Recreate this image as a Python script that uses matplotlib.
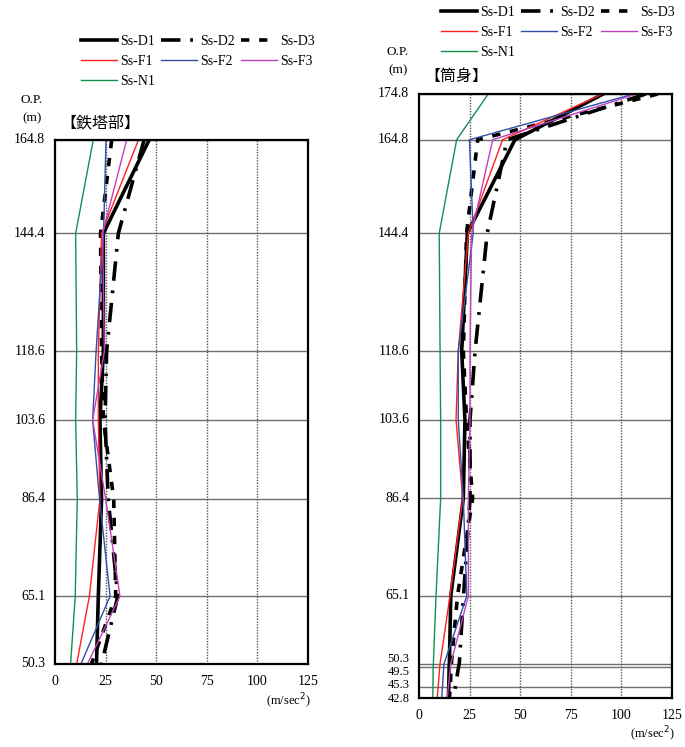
import matplotlib
matplotlib.use("Agg")
import matplotlib.pyplot as plt

plt.rcParams['lines.scale_dashes'] = False

# ---------------- data ----------------
series_names = ["Ss-D1", "Ss-D2", "Ss-D3", "Ss-F1", "Ss-F2", "Ss-F3", "Ss-N1"]

tower_levels = [164.8, 144.4, 118.6, 103.6, 86.4, 65.1, 50.3]
tower_ticks = ["164.8", "144.4", "118.6", "103.6", "86.4", "65.1", "50.3"]
tower_D1 = [46.5, 23.9, 23.9, 22.2, 23.0, 21.4, 20.5]
tower_D2 = [44.0, 31.3, 25.5, 24.7, 26.3, 31.0, 23.0]
tower_D3 = [28.0, 22.5, 23.0, 23.9, 29.0, 30.0, 18.0]
tower_F1 = [41.2, 23.0, 21.4, 21.4, 22.2, 17.0, 10.7]
tower_F2 = [25.2, 24.0, 20.3, 18.6, 22.0, 27.2, 12.8]
tower_F3 = [35.4, 23.5, 24.4, 18.6, 25.0, 32.1, 16.0]
tower_N1 = [18.9, 10.2, 10.7, 10.2, 11.0, 10.0, 7.7]

stack_levels = [174.8, 164.8, 144.4, 118.6, 103.6, 86.4, 65.1, 50.3, 49.5, 45.3, 42.8]
stack_ticks = ["174.8", "164.8", "144.4", "118.6", "103.6", "86.4", "65.1", "50.3", "49.5", "45.3", "42.8"]
stack_D1 = [91.0, 47.4, 23.9, 21.1, 22.7, 21.9, 15.7, 15.0, 14.9, 14.7, 14.5]
stack_D2 = [112.0, 43.5, 33.7, 27.7, 25.2, 25.2, 22.0, 19.9, 19.5, 18.0, 17.3]
stack_D3 = [118.0, 29.0, 23.5, 21.9, 23.5, 26.5, 19.0, 16.0, 15.8, 15.5, 15.0]
stack_F1 = [90.7, 41.3, 24.4, 19.4, 18.3, 21.6, 15.3, 10.4, 10.2, 9.5, 9.0]
stack_F2 = [106.0, 24.9, 26.8, 19.4, 19.4, 21.9, 23.6, 12.4, 12.2, 11.6, 11.2]
stack_F3 = [107.5, 36.4, 26.0, 25.2, 25.2, 24.4, 24.4, 15.7, 15.5, 14.5, 14.0]
stack_N1 = [34.2, 18.6, 10.0, 10.4, 10.7, 10.7, 8.4, 7.1, 7.0, 6.9, 6.8]

x_ticks = [0, 25, 50, 75, 100, 125]

# ---------------- styles ----------------
styles = {
    "Ss-D1": dict(color="black", lw=2.6, ls="-"),
    "Ss-D2": dict(color="black", lw=2.6, ls=(0, (14, 7, 2, 7))),
    "Ss-D3": dict(color="black", lw=2.6, ls=(0, (6, 7))),
    "Ss-F1": dict(color="#ff2020", lw=1.0, ls="-"),
    "Ss-F2": dict(color="#2f4fa8", lw=1.0, ls="-"),
    "Ss-F3": dict(color="#c040c0", lw=1.0, ls="-"),
    "Ss-N1": dict(color="#129050", lw=1.0, ls="-"),
}

serif = ["Liberation Serif", "DejaVu Serif"]
cjk = ["Noto Sans CJK JP", "DejaVu Sans"]

fig = plt.figure(figsize=(6.85, 7.47), dpi=100)
W, H = 685, 747


def make_axes(x0, y0, x1, y1):
    return fig.add_axes([x0 / W, 1 - y1 / H, (x1 - x0) / W, (y1 - y0) / H])


def draw_panel(ax, levels, ticks, data, title, title_xy, op_xy, unit_xy, label_shift):
    for name, vals in zip(series_names, data):
        st = styles[name]
        ax.plot(vals, levels, color=st["color"], lw=st["lw"], linestyle=st["ls"],
                label=name, solid_joinstyle="miter", dash_joinstyle="miter")
    ax.set_xlim(0, 125)
    ax.set_ylim(min(levels), max(levels))
    ax.set_xticks(x_ticks)
    ax.set_xticklabels([str(t) for t in x_ticks], fontfamily=serif, fontsize=10)
    ax.set_yticks([])
    for lv, tl in zip(levels, ticks):
        dy, fs = label_shift.get(tl, (0.0, 10))  # pixels, positive = up
        ax.annotate(tl, xy=(0, lv), xycoords=("axes fraction", "data"),
                    xytext=(-7, dy * 0.72), textcoords="offset points",
                    ha="right", va="center", fontfamily=serif, fontsize=fs)
    ax.tick_params(length=0)
    ax.tick_params(axis="x", pad=8)
    for lv in levels:
        ax.axhline(lv, color="#6e6e6e", lw=1.0, zorder=0)
    for xv in [25, 50, 75, 100]:
        ax.axvline(xv, color="#555555", lw=1.0, ls=(0, (1, 1)), zorder=0)
    for s in ax.spines.values():
        s.set_linewidth(1.6)
        s.set_color("black")
    fig.text(title_xy[0] / W, 1 - title_xy[1] / H, title, fontfamily=cjk,
             fontsize=11.5, ha="left", va="center")
    fig.text(op_xy[0] / W, 1 - op_xy[1] / H, "O.P.", fontfamily=serif,
             fontsize=9.5, ha="center", va="center")
    fig.text(op_xy[0] / W, 1 - (op_xy[1] + 18) / H, "(m)", fontfamily=serif,
             fontsize=9.5, ha="center", va="center")
    fig.text(unit_xy[0] / W, 1 - unit_xy[1] / H, "(m/sec$^2$)", fontfamily=serif,
             fontsize=9, ha="center", va="center")


axL = make_axes(55, 140, 308, 664)
draw_panel(axL, tower_levels, tower_ticks,
           [tower_D1, tower_D2, tower_D3, tower_F1, tower_F2, tower_F3, tower_N1],
           "【鉄塔部】", (60, 123), (32, 100), (288, 701), {})

axR = make_axes(419, 94, 672, 698)
draw_panel(axR, stack_levels, stack_ticks,
           [stack_D1, stack_D2, stack_D3, stack_F1, stack_F2, stack_F3, stack_N1],
           "【筒身】", (424, 76), (398, 52), (652, 734),
           {"50.3": (4.7, 9), "49.5": (-4.3, 9), "45.3": (2.0, 9), "42.8": (-0.5, 9)})


def add_legend(ax, x, y):
    h, l = ax.get_legend_handles_labels()
    order = [0, 3, 6, 1, 4, 2, 5]
    fig.legend([h[i] for i in order], [l[i] for i in order], ncol=3,
               loc="upper left", bbox_to_anchor=(x / W, 1 - y / H),
               frameon=False, handlelength=2.6, handletextpad=0.2,
               columnspacing=0.45, labelspacing=0.5,
               prop={"family": serif, "size": 10}, borderaxespad=0, borderpad=0)


add_legend(axL, 81, 35)
add_legend(axR, 441, 6)

fig.savefig("out.png", dpi=100)
